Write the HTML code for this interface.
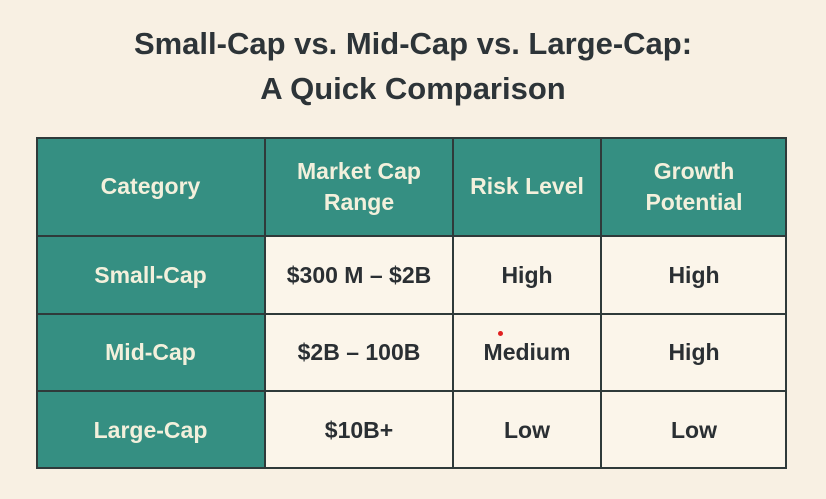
<!DOCTYPE html>
<html><head><meta charset="utf-8"><style>
body{margin:0;width:826px;height:499px;background:#f8f0e3;font-family:"Liberation Sans",sans-serif;position:relative;overflow:hidden}
.t{position:absolute;left:0;width:826px;text-align:center;font-weight:bold;font-size:31px;color:#2d3438}
.c{position:absolute;display:flex;align-items:center;justify-content:center;text-align:center;box-sizing:border-box;font-size:23px;line-height:31px;font-weight:bold}
.h{background:#358f82;color:#f3f0dc}
.d{background:#fbf5ea;color:#2a2f33}
.grid{position:absolute;left:36px;top:137px;width:751px;height:332px;border:2px solid #2f3a3a;box-sizing:border-box}
</style></head><body>
<div class="t" style="top:26px">Small-Cap vs. Mid-Cap vs. Large-Cap:</div>
<div class="t" style="top:71px">A Quick Comparison</div>
<div id="tbl"></div>
<div style="position:absolute;left:498px;top:331px;width:5px;height:5px;border-radius:50%;background:#e02020"></div>
<script>
const cols=[36,265,453,601,787];
const rows=[137,236,314,391,469];
const header=["Category","Market Cap<br>Range","Risk Level","Growth<br>Potential"];
const categories=["Small-Cap","Mid-Cap","Large-Cap"];
const ranges=["$300 M – $2B","$2B – 100B","$10B+"];
const risks=["High","Medium","Low"];
const growth=["High","High","Low"];
const tbl=document.getElementById('tbl');
function cell(r,c,html,cls,name){
 const d=document.createElement('div');
 d.className='c '+cls;
 d.style.left=cols[c]+'px';d.style.top=rows[r]+'px';
 d.style.width=(cols[c+1]-cols[c])+'px';d.style.height=(rows[r+1]-rows[r])+'px';
 d.style.border='1px solid #2f3a3a';
 d.innerHTML=html;
 
 
 tbl.appendChild(d);
}
header.forEach((h,i)=>cell(0,i,h,'h','header-cell'));
for(let i=0;i<3;i++){
 cell(i+1,0,categories[i],'h','category-cell');
 cell(i+1,1,ranges[i],'d','market-cap-cell');
 cell(i+1,2,risks[i],'d','risk-cell');
 cell(i+1,3,growth[i],'d','growth-cell');
}
const g=document.createElement('div');g.className='grid';


tbl.appendChild(g);
</script>
</body></html>
